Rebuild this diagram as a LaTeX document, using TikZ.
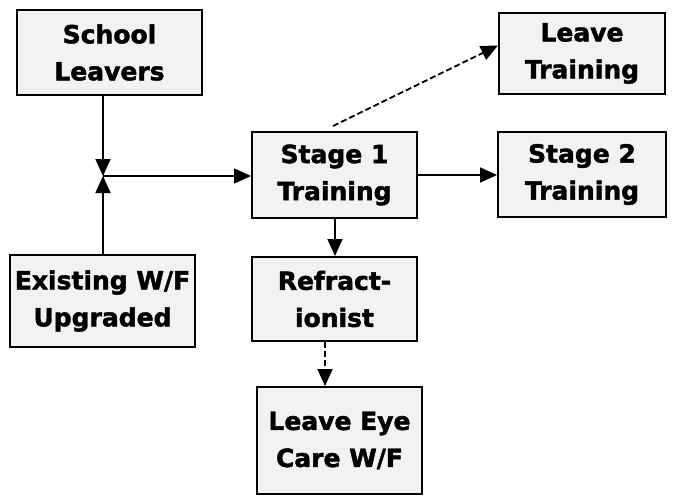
\documentclass[tikz,border=0pt]{standalone}
\usepackage{fontspec}
\setmainfont{DejaVu Sans}[BoldFeatures={FakeBold=1.8}]
\usetikzlibrary{arrows.meta,calc}
\definecolor{boxfill}{HTML}{F2F2F2}
\begin{document}
\begin{tikzpicture}[x=1pt,y=-1pt,
  box/.style={draw=black,line width=2pt,fill=boxfill,rectangle,inner sep=0pt,
    align=center,font=\fontsize{25}{37}\selectfont\bfseries},
  conn/.style={line width=1.8pt,-{Triangle[length=17pt,width=15pt]}},
  dconn/.style={conn,dash pattern=on 6pt off 3pt}]
\useasboundingbox (0,0) rectangle (685,500);
\node[box,minimum width=185pt,minimum height=85pt] (SL) at (109.5,52.5) {School\\Leavers};
\node[box,minimum width=185pt,minimum height=92pt] (EW) at (102.5,301) {Existing W/F\\Upgraded};
\node[box,minimum width=165pt,minimum height=86pt] (S1) at (334.5,175) {Stage 1\\Training};
\node[box,minimum width=168pt,minimum height=85pt] (S2) at (582,174.5) {Stage 2\\Training};
\node[box,minimum width=166pt,minimum height=81pt] (LT) at (582,53.5) {Leave\\Training};
\node[box,minimum width=165pt,minimum height=84pt] (RF) at (334.5,299) {Refract-\\ionist};
\node[box,minimum width=165pt,minimum height=107pt] (LE) at (339.5,440.5) {Leave Eye\\Care W/F};
\coordinate (J) at (103,176);
\draw[conn] (SL.south -| J) -- (J);
\draw[conn] (EW.north -| J) -- (J);
\draw[conn] (J) -- (J -| S1.west);
\draw[conn] (S1.east) -- (S1.east -| S2.west);
\draw[dconn] ([xshift=-1.5pt,yshift=5pt]S1.north) -- ([yshift=8pt]LT.west);
\coordinate (A) at (335,0);
\draw[conn] (S1.south -| A) -- (RF.north -| A);
\coordinate (B) at (325,0);
\draw[dconn] (RF.south -| B) -- (LE.north -| B);
\end{tikzpicture}
\end{document}
